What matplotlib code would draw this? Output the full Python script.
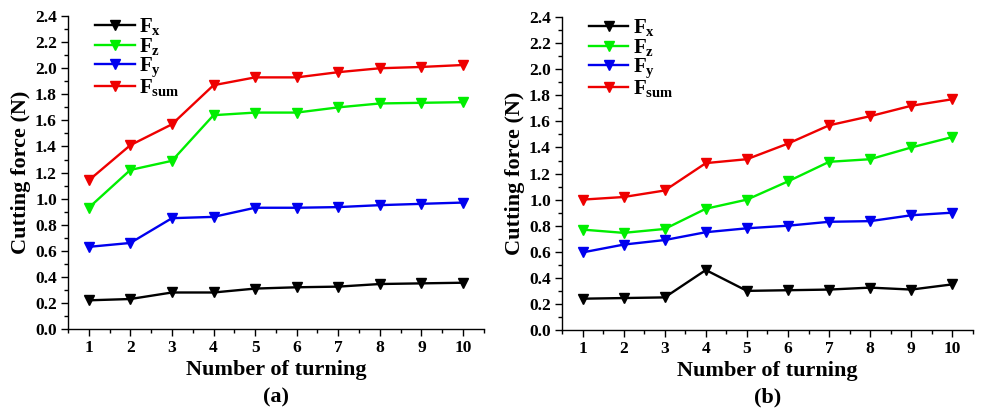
import matplotlib
matplotlib.use("Agg")

import matplotlib.pyplot as plt
from matplotlib.ticker import MultipleLocator

plt.rcParams.update({
    "font.family": "Liberation Serif",
    "font.weight": "bold",
    "mathtext.fontset": "custom",
    "mathtext.rm": "Liberation Serif:bold",
    "mathtext.bf": "Liberation Serif:bold",
    "mathtext.it": "Liberation Serif:bold",
})

turning = [1, 2, 3, 4, 5, 6, 7, 8, 9, 10]

# painel (a)
fx_a = [0.22, 0.23, 0.28, 0.28, 0.31, 0.32, 0.325, 0.345, 0.35, 0.355]
fz_a = [0.93, 1.22, 1.29, 1.64, 1.66, 1.66, 1.70, 1.73, 1.735, 1.74]
fy_a = [0.63, 0.66, 0.85, 0.86, 0.93, 0.93, 0.935, 0.95, 0.96, 0.97]
fsum_a = [1.14, 1.41, 1.57, 1.87, 1.93, 1.93, 1.97, 2.00, 2.01, 2.025]

# painel (b)
fx_b = [0.24, 0.245, 0.25, 0.46, 0.30, 0.305, 0.31, 0.325, 0.31, 0.35]
fz_b = [0.77, 0.745, 0.775, 0.93, 1.00, 1.14, 1.29, 1.31, 1.40, 1.48]
fy_b = [0.595, 0.655, 0.69, 0.75, 0.78, 0.80, 0.83, 0.835, 0.88, 0.90]
fsum_b = [1.00, 1.02, 1.07, 1.28, 1.31, 1.43, 1.57, 1.64, 1.72, 1.77]

labels = [r"$\mathbf{F_{x}}$", r"$\mathbf{F_{z}}$", r"$\mathbf{F_{y}}$", r"$\mathbf{F_{sum}}$"]
cores = ["black", "#00ee00", "#0000ee", "#ee0000"]

fig = plt.figure(figsize=(9.82, 4.13), dpi=100)
ax_a = fig.add_axes([0.0692, 0.2034, 0.4235, 0.7576])
ax_b = fig.add_axes([0.5723, 0.2010, 0.4185, 0.7576])

paineis = [
    (ax_a, [fx_a, fz_a, fy_a, fsum_a], "(a)", 0.281),
    (ax_b, [fx_b, fz_b, fy_b, fsum_b], "(b)", 0.782),
]

for ax, series, letra, xl in paineis:
    for vals, cor, lab in zip(series, cores, labels):
        ax.plot(turning, vals, color=cor, lw=1.7, marker="v",
                markersize=7, label=lab)

    ax.set_xlim(0.5, 10.5)
    ax.set_ylim(0, 2.4)
    ax.xaxis.set_major_locator(MultipleLocator(1))
    ax.xaxis.set_minor_locator(MultipleLocator(0.5))
    ax.yaxis.set_major_locator(MultipleLocator(0.2))
    ax.yaxis.set_minor_locator(MultipleLocator(0.1))
    ax.yaxis.set_major_formatter(plt.FuncFormatter(lambda v, p: f"{v:.1f}"))

    ax.spines["top"].set_visible(False)
    ax.spines["right"].set_visible(False)
    for s in ("left", "bottom"):
        ax.spines[s].set_linewidth(1.0)

    ax.tick_params(which="major", direction="out", length=5, width=1,
                   labelsize=12.5, pad=3)
    ax.tick_params(which="minor", direction="out", length=3, width=1)
    for t in ax.get_xticklabels() + ax.get_yticklabels():
        t.set_fontweight("bold")

    ax.set_xlabel("Number of turning", fontsize=16, fontweight="bold", labelpad=3)
    ax.set_ylabel("Cutting force (N)", fontsize=16, fontweight="bold", labelpad=3)

    ax.legend(loc="upper left", bbox_to_anchor=(0.045, 1.026), frameon=False,
              numpoints=1, fontsize=15, handlelength=1.9,
              handletextpad=0.2, labelspacing=-0.07, borderaxespad=0.0)

    fig.text(xl, 0.038, letra, fontsize=16, fontweight="bold",
             ha="center", va="center")

fig.savefig("out.png", dpi=100)
